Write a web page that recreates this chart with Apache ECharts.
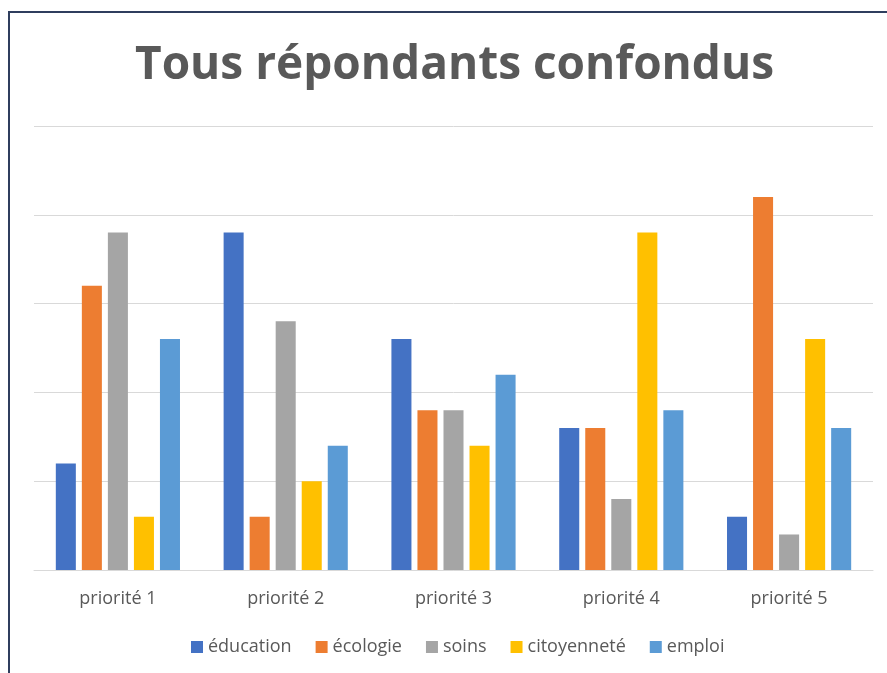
<!DOCTYPE html>
<html><head><meta charset="utf-8">
<script src="https://cdn.jsdelivr.net/npm/echarts@6/dist/echarts.min.js"></script>
<style>
html,body{margin:0;padding:0;background:#fff;overflow:hidden}
#frame{position:absolute;left:8px;top:11px;width:1000px;height:800px;border-left:2px solid #2F3E5E;border-top:2px solid #2F3E5E;box-sizing:border-box}
#c{position:absolute;left:0;top:0;width:887px;height:673px}
</style></head>
<body>
<div id="frame"></div>
<div id="c"></div>
<script>
const categories = ['priorité 1','priorité 2','priorité 3','priorité 4','priorité 5'];
const seriesNames = ['éducation','écologie','soins','citoyenneté','emploi'];
const education = [6,19,13,8,3];
const ecologie = [16,3,9,8,21];
const soins = [19,14,9,4,2];
const citoyennete = [3,5,7,19,13];
const emploi = [13,7,11,9,8];
const colors = ['#4472C4','#ED7D31','#A5A5A5','#FFC000','#5B9BD5'];
const values = [education,ecologie,soins,citoyennete,emploi];

const chart = echarts.init(document.getElementById('c'));
chart.setOption({
  animation:false,
  backgroundColor:'transparent',
  title:{text:'Tous répondants confondus',left:130,top:38,
    textStyle:{fontFamily:'Open Sans',fontWeight:'bold',fontSize:46,color:'#595959'}},
  legend:{top:633,left:186,itemWidth:12,itemHeight:12,itemGap:24,icon:'rect',
    textStyle:{fontFamily:'Open Sans',fontSize:18,color:'#595959'},
    data:seriesNames},
  grid:{left:34,right:14,top:126,bottom:103,containLabel:false},
  xAxis:{type:'category',data:categories,
    axisLine:{lineStyle:{color:'#D9D9D9',width:1}},axisTick:{show:false},
    axisLabel:{fontFamily:'Open Sans',fontSize:18,color:'#595959',margin:20}},
  yAxis:{type:'value',min:0,max:25,interval:5,axisLabel:{show:false},
    axisLine:{show:false},axisTick:{show:false},
    splitLine:{lineStyle:{color:'#D9D9D9',width:1}}},
  series: seriesNames.map((n,i)=>({name:n,type:'bar',data:values[i],
    itemStyle:{color:colors[i]},barGap:'30%',barCategoryGap:'26%'}))
});
</script>
</body></html>
